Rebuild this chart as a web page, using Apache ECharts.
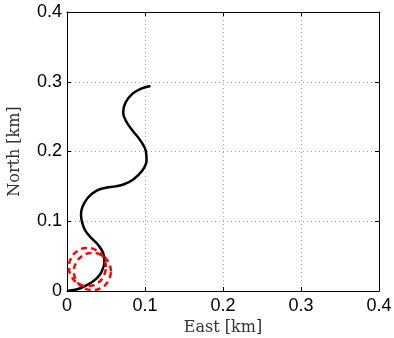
<!DOCTYPE html>
<html><head><meta charset="utf-8">
<script src="https://cdn.jsdelivr.net/npm/echarts@6/dist/echarts.min.js"></script>
<style>html,body{margin:0;padding:0;background:#fff}#c{width:394px;height:338px}</style>
</head><body><div id="c"></div>
<script>
// Trajectory (East km, North km)
const pathEast  = [0,0.008,0.017,0.0295,0.038,0.0444,0.048,0.0466,0.040,0.0295,0.023,0.019,0.018,0.020,0.027,0.038,0.050,0.062,0.073,0.085,0.096,0.102,0.101,0.094,0.084,0.076,0.072,0.075,0.084,0.095,0.107];
const pathNorth = [0,0.0014,0.0039,0.011,0.018,0.0277,0.042,0.054,0.066,0.078,0.0875,0.100,0.110,0.121,0.134,0.144,0.148,0.150,0.153,0.160,0.172,0.187,0.201,0.216,0.230,0.243,0.256,0.270,0.283,0.290,0.294];
// Red dashed loops
const loop1East  = [0.0500,0.0468,0.0382,0.0263,0.0145,0.0058,0.0026,0.0058,0.0145,0.0263,0.0382,0.0468,0.0500];
const loop1North = [0.0344,0.0480,0.0580,0.0616,0.0580,0.0480,0.0344,0.0208,0.0108,0.0072,0.0108,0.0208,0.0344];
const loop2East  = [0.0564,0.0532,0.0446,0.0327,0.0209,0.0122,0.0090,0.0122,0.0209,0.0327,0.0446,0.0532,0.0564];
const loop2North = [0.0280,0.0413,0.0510,0.0545,0.0510,0.0413,0.0280,0.0148,0.0050,0.0015,0.0050,0.0148,0.0280];
const tickValues = [0,0.1,0.2,0.3,0.4];

const zip = (a,b)=>a.map((v,i)=>[v,b[i]]);
const labelFmt = v => (Math.abs(v)<1e-9?'0':String(+v.toFixed(1)));
const nameStyle = {color:'#333',fontSize:16,fontFamily:'DejaVu Serif, serif'};
const baseAxis = {
  type:'value', min:0, max:0.4, interval:0.1,
  axisLine:{show:true,onZero:false,lineStyle:{color:'#000',width:1}},
  axisTick:{show:true,inside:true,length:4,lineStyle:{color:'#000'}},
  splitLine:{show:true,lineStyle:{color:'#aaa',type:[1,3],width:1}},
  axisLabel:{color:'#000',fontSize:18,fontFamily:'Liberation Sans, Arial, sans-serif',formatter:labelFmt}
};
const chart = echarts.init(document.getElementById('c'),null,{renderer:'canvas'});
chart.setOption({
  animation:false,
  backgroundColor:'#fff',
  grid:{left:67,right:15,top:12,bottom:47,show:false,containLabel:false,outerBoundsMode:'none'},
  xAxis:[
    Object.assign({},baseAxis,{position:'bottom',name:'East [km]',nameLocation:'middle',nameGap:24,
      nameTextStyle:nameStyle,
      axisLabel:Object.assign({},baseAxis.axisLabel,{margin:6})}),
    Object.assign({},baseAxis,{position:'top',axisLabel:{show:false},splitLine:{show:false}})
  ],
  yAxis:[
    Object.assign({},baseAxis,{position:'left',name:'North [km]',nameLocation:'middle',nameGap:44,
      nameTextStyle:nameStyle,
      axisLabel:Object.assign({},baseAxis.axisLabel,{margin:5})}),
    Object.assign({},baseAxis,{position:'right',axisLabel:{show:false},splitLine:{show:false}})
  ],
  series:[
    {type:'line',data:zip(pathEast,pathNorth),smooth:0.4,symbol:'none',clip:false,
     lineStyle:{color:'#000',width:2.5}},
    {type:'line',data:zip(loop1East,loop1North),smooth:0.5,symbol:'none',
     lineStyle:{color:'#ff0000',width:2.5,type:[6,4]}},
    {type:'line',data:zip(loop2East,loop2North),smooth:0.5,symbol:'none',
     lineStyle:{color:'#ff0000',width:2.5,type:[6,4]}}
  ]
});
</script></body></html>
